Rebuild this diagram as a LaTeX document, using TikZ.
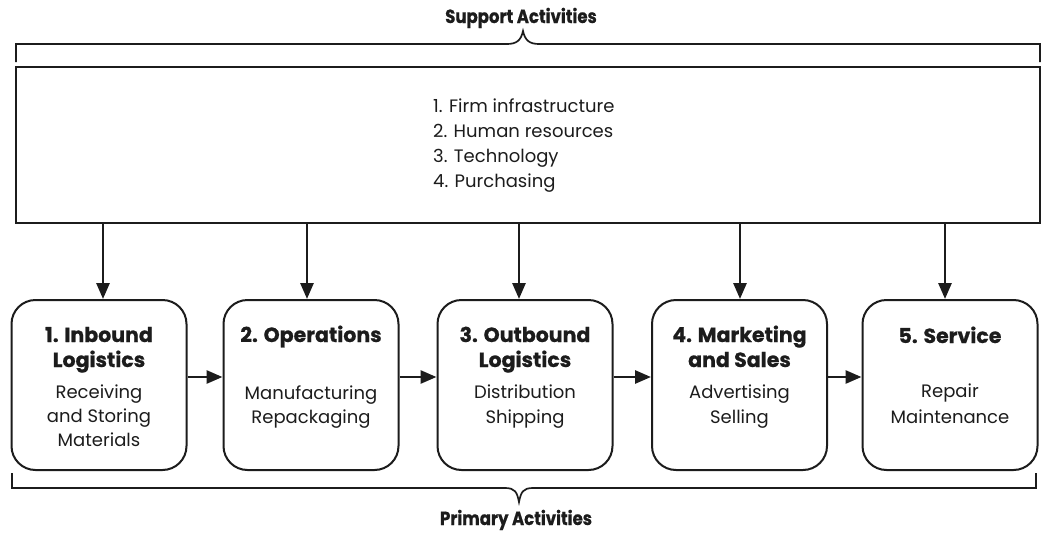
\documentclass[tikz,border=0pt]{standalone}
\usepackage{fontspec}
\setmainfont{Poppins}
\newfontfamily\condbold{Poppins}[FakeStretch=0.87,FakeBold=0.6]
\newfontfamily\heavy{Poppins}[FakeBold=0.7]
\usetikzlibrary{arrows.meta}
\definecolor{ink}{HTML}{1C1C1C}
\begin{document}
\begin{tikzpicture}[x=1pt,y=-1pt,
  every node/.style={text=ink},
  stage/.style={draw=ink, line width=2pt, rounded corners=24pt, minimum width=175pt, minimum height=170pt, inner sep=0pt},
  flow/.style={draw=ink, line width=2.8pt, -{Triangle[length=16pt,width=13pt]}},
  bracket/.style={draw=ink, line width=1.7pt},
  ttl/.style={anchor=base, font=\heavy\bfseries\fontsize{20.5}{24}\selectfont, inner sep=0pt},
  dsc/.style={anchor=base, font=\fontsize{18}{22}\selectfont, inner sep=0pt},
  lst/.style={anchor=base west, font=\fontsize{18}{22}\selectfont, inner sep=0pt},
  hdr/.style={anchor=base, font=\condbold\bfseries\fontsize{19}{22}\selectfont, inner sep=0pt}]
\useasboundingbox (0,0) rectangle (1042,533);
\fill[white] (0,0) rectangle (1042,533);

% header and top bracket
\node[hdr] (supt) at (521,23) {Support Activities};
\draw[bracket] (16,62) -- (16,44) -- (507,44) .. controls (517,44) and (521,40) .. (523,31)
  .. controls (525,40) and (529,44) .. (539,44) -- (1040,44) -- (1040,62);

% support box
\node[draw=ink, line width=2pt, minimum width=1024pt, minimum height=156pt, inner sep=0pt] (sup) at (528,145) {};
\node[lst] (l1) at (433,112) {1. Firm infrastructure};
\node[lst] (l2) at (433,137) {2. Human resources};
\node[lst] (l3) at (433,162) {3. Technology};
\node[lst] (l4) at (433,187) {4. Purchasing};

% primary stages
\node[stage] (b1) at (99,385) {};
\node[stage] (b2) at (311,385) {};
\node[stage] (b3) at (525,385) {};
\node[stage] (b4) at (739.5,385) {};
\node[stage] (b5) at (950,385) {};

\node[ttl] (b1t1) at (99,342) {1. Inbound};
\node[ttl] (b1t2) at (99,367) {Logistics};
\node[dsc] (b1d1) at (99,398) {Receiving};
\node[dsc] (b1d2) at (99,422) {and Storing};
\node[dsc] (b1d3) at (99,446) {Materials};

\node[ttl] (b2t1) at (311,342) {2. Operations};
\node[dsc] (b2d1) at (311,399) {Manufacturing};
\node[dsc] (b2d2) at (311,423) {Repackaging};

\node[ttl] (b3t1) at (525,342) {3. Outbound};
\node[ttl] (b3t2) at (525,367) {Logistics};
\node[dsc] (b3d1) at (525,398) {Distribution};
\node[dsc] (b3d2) at (525,423) {Shipping};

\node[ttl] (b4t1) at (739.5,342) {4. Marketing};
\node[ttl] (b4t2) at (739.5,367) {and Sales};
\node[dsc] (b4d1) at (739.5,398) {Advertising};
\node[dsc] (b4d2) at (739.5,423) {Selling};

\node[ttl] (b5t1) at (950,343) {5. Service};
\node[dsc] (b5d1) at (950,397) {Repair};
\node[dsc] (b5d2) at (950,423) {Maintenance};

% arrows from support box
\coordinate (a1) at ([xshift=4pt]b1.north);
\coordinate (a2) at ([xshift=-4pt]b2.north);
\coordinate (a3) at ([xshift=-6pt]b3.north);
\coordinate (a4) at ([xshift=0.5pt]b4.north);
\coordinate (a5) at ([xshift=-5pt]b5.north);
\foreach \i in {1,...,5} {\draw[flow] (a\i |- sup.south) -- (a\i);}

% flow between stages
\draw[flow] ([yshift=8pt]b1.east) -- ([yshift=8pt]b2.west);
\draw[flow] ([yshift=8pt]b2.east) -- ([yshift=8pt]b3.west);
\draw[flow] ([yshift=8pt]b3.east) -- ([yshift=8pt]b4.west);
\draw[flow] ([yshift=8pt]b4.east) -- ([yshift=8pt]b5.west);

% bottom bracket and header
\draw[bracket] (12,473) -- (12,488) -- (505,488) .. controls (515,488) and (517,492) .. (519,502)
  .. controls (521,492) and (523,488) .. (533,488) -- (1036,488) -- (1036,473);
\node[hdr] (prim) at (516,525) {Primary Activities};
\end{tikzpicture}
\end{document}
